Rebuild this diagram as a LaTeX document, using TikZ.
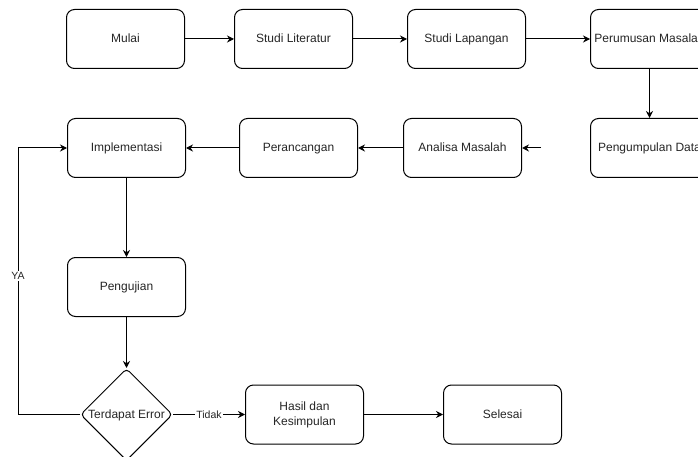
\documentclass[tikz,border=0pt]{standalone}
\usepackage{fontspec}
\setmainfont{Liberation Sans}
\usetikzlibrary{shapes.geometric}
\usetikzlibrary{positioning,arrows.meta}

\begin{document}
\begin{tikzpicture} [x=1pt,y=-1pt,>={Stealth[length=7pt,width=7pt]},
    box/.style={rectangle, draw, rounded corners=8pt, line width=1pt,
      minimum width=118pt, minimum height=59pt, inner sep=1pt,
      text height=10pt, text depth=2.6pt,
      align=center, text=black!85, font=\fontsize{12}{15}\selectfont},
    decide/.style={diamond, draw, aspect=1, rounded corners=4pt, line width=1pt,
      minimum size=92pt, inner sep=0pt, text=black!85,
      text height=10pt, text depth=2.6pt,
      font=\fontsize{12}{14}\selectfont},
    con/.style={->, line width=1pt},
    lbl/.style={fill=white, inner sep=1pt, text=black!85,
      font=\fontsize{10.5}{12}\selectfont}
    ]
    \useasboundingbox[fill=white] (0,0) rectangle (698,457);
    % first row
    \node (n1) [box] at (125.5,39) {Mulai};
    \node (n2) [box, right=49pt of n1] {Studi Literatur};
    \node (n3) [box, right=54pt of n2] {Studi Lapangan};
    \node (n4) [box, right=64pt of n3] {Perumusan Masalah};
    % second row
    \node (n5) [box, below=49pt of n4] {Pengumpulan Data};
    \node (n6) [box, left=68pt of n5] {Analisa Masalah};
    \coordinate [right=19pt of n6.east] (c1);
    \node (n7) [box, left=45pt of n6] {Perancangan};
    \node (n8) [box, left=53pt of n7] {Implementasi};
    % down
    \node (n9) [box, below=79pt of n8] {Pengujian};
    \node (n10) [decide, below=51pt of n9] {Terdapat Error};
    \node (n11) [box, right=72pt of n10, text height=, text depth=] {Hasil dan\\Kesimpulan};
    \node (n12) [box, right=79pt of n11] {Selesai};

    \draw [con] (n1) -- (n2);
    \draw [con] (n2) -- (n3);
    \draw [con] (n3) -- (n4);
    \draw [con] (n4) -- (n5);
    \draw [con] (c1) -- (n6);
    \draw [con] (n6) -- (n7);
    \draw [con] (n7) -- (n8);
    \draw [con] (n8) -- (n9);
    \draw [con] (n9) -- (n10);
    \draw [con] (n10) -- node[lbl]{Tidak} (n11);
    \draw [con] (n11) -- (n12);
    \draw [con] (n10.west) -- ++(-62,0) |- node[lbl, pos=0.26]{YA} (n8.west);
\end{tikzpicture}
\end{document}
